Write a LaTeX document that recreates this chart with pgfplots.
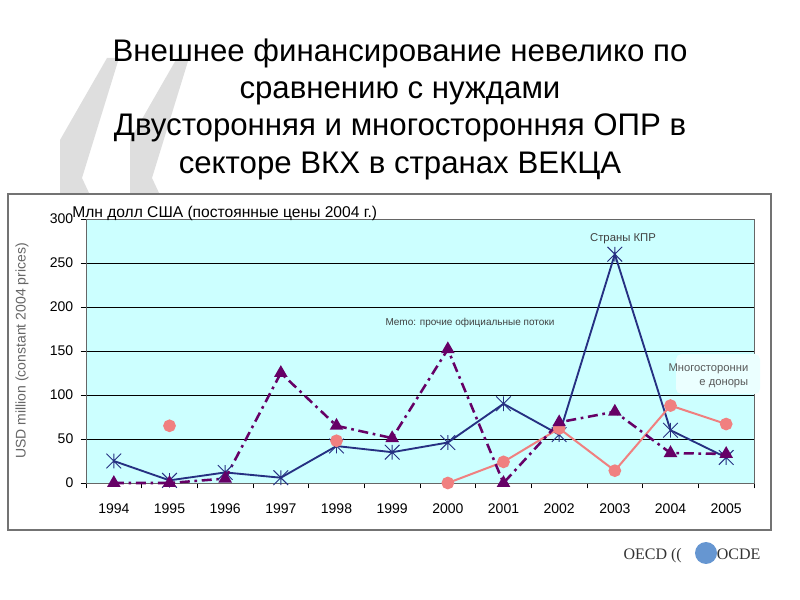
\documentclass[border=0pt]{standalone}
\usepackage{fontspec}
\setmainfont{Liberation Sans}
\newfontfamily\serifx{Liberation Serif}
\usepackage{pgfplots}
\pgfplotsset{compat=1.18}
\definecolor{bgc}{RGB}{204,255,255}
\definecolor{navy}{RGB}{38,48,130}
\definecolor{purp}{RGB}{102,0,102}
\definecolor{salm}{RGB}{240,128,128}
\pgfdeclareplotmark{xstar}{%
  \pgfpathmoveto{\pgfqpoint{-\pgfplotmarksize}{-\pgfplotmarksize}}%
  \pgfpathlineto{\pgfqpoint{\pgfplotmarksize}{\pgfplotmarksize}}%
  \pgfpathmoveto{\pgfqpoint{-\pgfplotmarksize}{\pgfplotmarksize}}%
  \pgfpathlineto{\pgfqpoint{\pgfplotmarksize}{-\pgfplotmarksize}}%
  \pgfpathmoveto{\pgfqpoint{0pt}{-\pgfplotmarksize}}%
  \pgfpathlineto{\pgfqpoint{0pt}{\pgfplotmarksize}}%
  \pgfusepathqstroke}
\begin{document}
\begin{tikzpicture}[x=0.75pt,y=0.75pt]
\path[use as bounding box] (0,0) rectangle (800,600);
% decorative quote shapes
\fill[black!13] (107,542) -- (119,542) -- (82,422) -- (90,405) -- (60,405) -- (60,460) -- cycle;
\fill[black!13] (177,542) -- (189,542) -- (152,422) -- (160,405) -- (130,405) -- (130,460) -- cycle;
% title
\node[align=center, font=\fontsize{23.4}{28}\selectfont] at (400,491)
 {Внешнее финансирование невелико по\\сравнению с нуждами\\Двусторонняя и многосторонняя ОПР в\\секторе ВКХ в странах ВЕКЦА};
% chart frame
\draw[black!55, line width=0.8pt, fill=white] (8,70) rectangle (771,406);
\begin{axis}[
  at={(64.5pt,87.75pt)}, anchor=south west,
  scale only axis, width=501pt, height=198pt,
  xmin=-0.5, xmax=11.5, ymin=0, ymax=300,
  xtick={0,...,11},
  xticklabels={1994,1995,1996,1997,1998,1999,2000,2001,2002,2003,2004,2005},
  major x tick style={draw=none},
  minor xtick={-0.5,0.5,...,11.5},
  minor tick length=4pt, major tick length=4pt,
  xtick pos=bottom, ytick pos=left,
  tick align=outside, tick style={black, line width=0.6pt},
  ytick={0,50,...,300},
  ymajorgrids, grid style={black, line width=0.6pt},
  axis background/.style={fill=bgc},
  axis line style={black!60},
  tick label style={font=\fontsize{10.5}{12}\selectfont},
  /pgf/number format/assume math mode=true,
  xticklabel style={yshift=-8pt},
  yticklabel style={xshift=-2pt},
  unbounded coords=jump,
  clip=false,
]
\addplot[navy, line width=1.4pt, mark=xstar, mark size=5.5pt, mark options={line width=0.7pt}]
 coordinates {(0,25) (1,3) (2,12) (3,6) (4,42) (5,35) (6,46) (7,90) (8,55) (9,260) (10,60) (11,29)};
\addplot[salm, line width=1.5pt, mark=*, mark size=4pt]
 coordinates {(0,nan) (1,65) (2,nan) (3,nan) (4,48) (5,nan) (6,0) (7,24) (8,62) (9,14) (10,88) (11,67)};
\addplot[purp, line width=1.9pt, dash pattern=on 7.5pt off 3.5pt on 2pt off 3.5pt, mark=triangle*, mark size=4pt, mark options={solid}]
 coordinates {(0,0) (1,0) (2,5) (3,125) (4,65) (5,51) (6,152) (7,0) (8,69) (9,81) (10,34) (11,33)};
\end{axis}
% annotations
\node[anchor=west, inner sep=0pt, font=\fontsize{11.7}{13}\selectfont] at (72,387) {Млн долл США (постоянные цены 2004 г.)};
\node[font=\fontsize{8.5}{10}\selectfont, text=black!75] at (623,361) {Страны КПР};
\node[font=\fontsize{7.5}{9}\selectfont, text=black!75] at (470,277) {Memo: прочие официальные потоки};
\fill[white!60!bgc, rounded corners=4pt] (676,246) rectangle (760,206);
\node[anchor=east, align=right, font=\fontsize{8.4}{10.5}\selectfont, text=black!65] at (753,224) {Многосторонни\\е доноры};
\node[rotate=90, font=\fontsize{10.5}{12}\selectfont, text=black!60] at (22,249) {USD million (constant 2004 prices)};
% logo
\fill[blue!55!cyan!70!black, opacity=0.6] (706,47) circle (11);
\node[font=\serifx\fontsize{12}{14}\selectfont, text=black!80] at (692,44) {OECD ((\hspace{2.2em}OCDE};
\end{tikzpicture}
\end{document}
